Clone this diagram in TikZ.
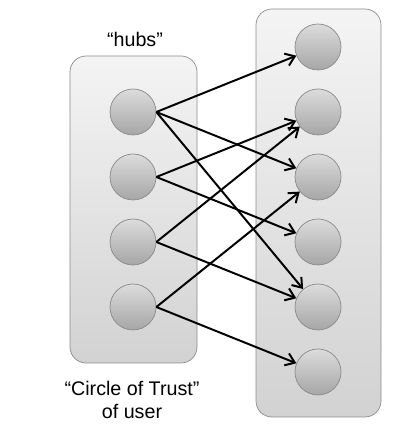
\documentclass[tikz,border=0pt]{standalone}
\usepackage{fontspec}
\setmainfont{Liberation Sans}
\usetikzlibrary{arrows.meta}
\definecolor{boxline}{HTML}{8C8C8C}
\definecolor{boxtop}{HTML}{F4F4F4}
\definecolor{boxbot}{HTML}{D2D2D2}
\definecolor{balltop}{HTML}{DCDCDC}
\definecolor{ballbot}{HTML}{A6A6A6}
\definecolor{ballline}{HTML}{8A8A8A}
\begin{document}
\begin{tikzpicture}[
    group/.style={draw=boxline,line width=0.5pt,rounded corners=0.4cm,top color=boxtop,bottom color=boxbot},
    ball/.style={circle,draw=ballline,line width=0.5pt,minimum size=1.15cm,inner sep=0pt,top color=balltop,bottom color=ballbot},
    label/.style={font=\fontsize{14}{17}\selectfont,align=center},
    link/.style={-{Straight Barb[length=2.2mm,width=3.2mm]},line width=1.4pt},
    >=stealth
]
\useasboundingbox (0,0) rectangle (10.45,10.65);

% the two groups
\path[group] (1.75,1.575) rectangle (4.925,9.25);
\path[group] (6.4,0.225) rectangle (9.525,10.425);

% hubs on the left
\foreach \i in {1,...,4}
  \node[ball] (h\i) at (3.325,{7.85-(\i-1)*1.625}) {};

% nodes on the right
\foreach \i in {1,...,6}
  \node[ball] (t\i) at (7.95,{9.475-(\i-1)*1.625}) {};

\node[label] (hubs) at (3.375,9.675) {“hubs”};
\node[label] (trust) at (3.3,0.65) {“Circle of Trust”\\of user};

% links
\foreach \a/\b in {1/1,1/3,1/5,2/2,2/4,3/2,3/5,4/3,4/6}
  \draw[link] (h\a.east) -- (t\b);
\end{tikzpicture}
\end{document}
